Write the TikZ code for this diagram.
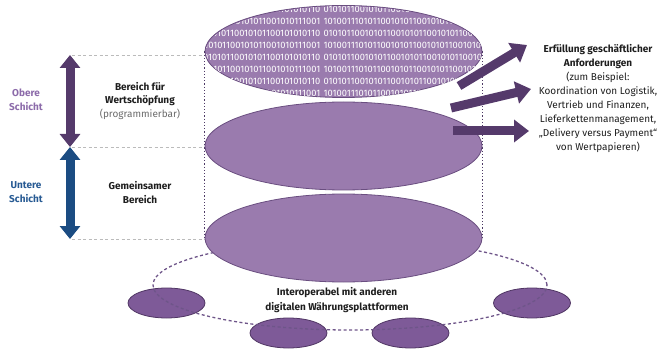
\documentclass[tikz,border=0pt]{standalone}
\usepackage{fontspec}
\setmainfont{Fira Sans}
\usetikzlibrary{arrows.meta,shapes.geometric}
\definecolor{ellfill}{HTML}{9A7BAE}
\definecolor{elldraw}{HTML}{6A4E80}
\definecolor{smallfill}{HTML}{7E5A98}
\definecolor{smalldraw}{HTML}{4F3563}
\definecolor{arrpurple}{HTML}{553A6B}
\definecolor{arrblue}{HTML}{1B4C82}
\definecolor{obere}{HTML}{8C6BAA}
\definecolor{untere}{HTML}{275A93}
\definecolor{ringc}{HTML}{6E5589}
\definecolor{vdotc}{HTML}{4E3A66}
\definecolor{guide}{HTML}{BBBBBB}
\definecolor{txt}{HTML}{1E1E1E}
\definecolor{subtxt}{HTML}{6A6A6A}
\def\Al{1010110010101100101011001010110010101100101010110}
\def\Ar{01010110010101100101011001010110010101100101011001}
\def\Bl{0101100101011001010110010101100101011001010111001}
\def\Br{10100111010110010101100101011001010110010101100101}
\begin{document}
\begin{tikzpicture}[x=1pt,y=-1pt,
 bigell/.style={ellipse, draw=elldraw, fill=ellfill, line width=0.8pt, inner sep=0pt, minimum width=277pt, minimum height=88pt},
 smallell/.style={ellipse, draw=smalldraw, fill=smallfill, line width=0.8pt, inner sep=0pt, minimum width=77pt, minimum height=30pt},
 ring/.style={draw=ringc, line width=1.3pt, dash pattern=on 3pt off 2.5pt},
 vline/.style={draw=vdotc, line width=1.1pt, dash pattern=on 1.2pt off 2pt},
 guideline/.style={draw=guide, line width=0.8pt, dash pattern=on 3pt off 2.5pt},
 fatarrow/.style={line width=9pt, -{Triangle[width=22pt,length=15pt]}, draw=arrpurple},
 dblarrow/.style={line width=9pt, {Triangle[width=20pt,length=13pt]}-{Triangle[width=20pt,length=13pt]}},
 bintext/.style={text=white, font=\fontsize{9.3}{10}\selectfont, inner sep=0pt},
 lbl/.style={align=center, text=txt, inner sep=0pt, font=\fontsize{10}{13.8}\selectfont},
 blbl/.style={lbl, font=\fontsize{10}{13.8}\selectfont\bfseries},
]
\useasboundingbox (0,0) rectangle (659,350);
% guide lines
\coordinate (g1a) at (72,55);  \coordinate (g1b) at (205,55);
\coordinate (g2a) at (72,147); \coordinate (g2b) at (205,147);
\coordinate (g3a) at (72,239); \coordinate (g3b) at (205,239);
\draw[guideline] (g1a) -- (g1b);
\draw[guideline] (g2a) -- (g2b);
\draw[guideline] (g3a) -- (g3b);
% small ellipses
\node[smallell] (s1) at (166.5,303) {};
\node[smallell] (s2) at (288.5,333) {};
\node[smallell] (s3) at (410.5,333) {};
\node[smallell] (s4) at (532,303) {};
% ring
\node[ellipse, ring, minimum width=394pt, minimum height=90pt, inner sep=0pt] (ringell) at (350,285) {};
% big ellipses
\node[bigell] (bot) at (343.5,238) {};
\node[bigell] (mid) at (343.5,146) {};
\node[bigell, minimum height=92pt] (top) at (343.5,51.5) {};
% binary text
\begin{scope}
\clip (343.5,51.5) ellipse [x radius=138, y radius=45.6];
\foreach \i/\l/\r in {0/\Al/\Ar,1/\Bl/\Br,2/\Al/\Ar,3/\Bl/\Br,4/\Al/\Ar,5/\Bl/\Br,6/\Al/\Ar,7/\Bl/\Br}{
  \node[bintext, anchor=east] (binl\i) at (320.5,{9+12.1*\i}) {\l};
  \node[bintext, anchor=west] (binr\i) at (323.5,{9+12.1*\i}) {\r};
}
\end{scope}
% vertical dotted lines
\draw[vline] (top.west) -- (bot.west);
\draw[vline] (top.east) -- (bot.east);
% left arrows
\coordinate (la1) at (70,55); \coordinate (la2) at (70,147); \coordinate (la3) at (70,239);
\draw[dblarrow, draw=arrpurple] (la1) -- (la2);
\draw[dblarrow, draw=arrblue] (la2) -- (la3);
% right arrows
\coordinate (r1s) at (459,86);  \coordinate (r1e) at (527,45);
\coordinate (r2s) at (451,108); \coordinate (r2e) at (531,89);
\coordinate (r3s) at (453,131); \coordinate (r3e) at (529,131);
\draw[fatarrow] (r1s) -- (r1e);
\draw[fatarrow] (r2s) -- (r2e);
\draw[fatarrow] (r3s) -- (r3e);
% labels
\node[blbl, text=obere] (obere) at (26,100) {Obere\\Schicht};
\node[blbl, text=untere] (untere) at (26,192.5) {Untere\\Schicht};
\node[blbl] (bereich) at (140,94) {Bereich für\\Wertschöpfung};
\node[lbl, text=subtxt, anchor=base] (prog) at (140,117.5) {(programmierbar)};
\node[blbl] (gemein) at (140,192.5) {Gemeinsamer\\Bereich};
\node[lbl, font=\fontsize{10}{14}\selectfont] (erf) at (598,99) {\textbf{Erfüllung geschäftlicher}\\\textbf{Anforderungen}\\(zum Beispiel:\\Koordination von Logistik,\\Vertrieb und Finanzen,\\Lieferkettenmanagement,\\„Delivery versus Payment“\\von Wertpapieren)};
\node[blbl, font=\fontsize{10}{15}\selectfont\bfseries] (interop) at (337,300.5) {Interoperabel mit anderen\\digitalen Währungsplattformen};
\end{tikzpicture}
\end{document}
